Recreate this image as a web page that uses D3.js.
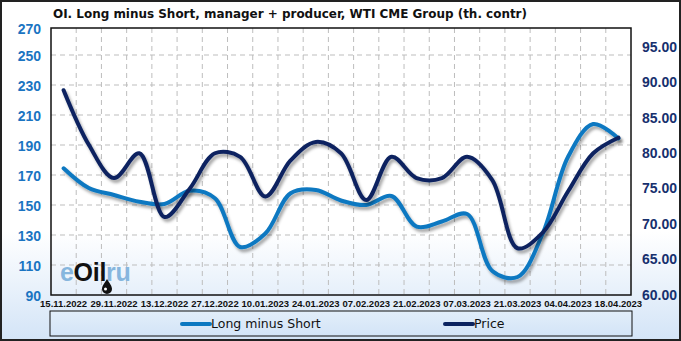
<!DOCTYPE html>
<html><head><meta charset="utf-8">
<script src="https://cdn.jsdelivr.net/npm/d3@7"></script>
<style>html,body{margin:0;padding:0;background:#fff;}svg{display:block;}</style>
</head><body>
<svg id="c" width="681" height="341"></svg>
<script>
const dates = ["15.11.2022","22.11.2022","29.11.2022","06.12.2022","13.12.2022","20.12.2022","27.12.2022","03.01.2023","10.01.2023","17.01.2023","24.01.2023","31.01.2023","07.02.2023","14.02.2023","21.02.2023","28.02.2023","07.03.2023","14.03.2023","21.03.2023","28.03.2023","04.04.2023","11.04.2023","18.04.2023"];
const longMinusShort = [174.5,161.3,156.7,152.2,150.7,159.5,154.5,122,131,157.8,160,153,150,156,135.6,139,144,106,102,131,182,204,194.4];
const price = [88.9,81.2,76.5,80.0,71.0,75.0,80.0,79.5,73.9,79.0,81.6,80.0,73.4,79.5,76.5,76.5,79.5,76.2,66.6,68.8,74.6,80.0,82.2];
const leftTicks = [90,110,130,150,170,190,210,230,250,270];
const rightTicks = [60,65,70,75,80,85,90,95];
const xLabels = dates.filter((d,i)=>i%2===0);
const title = "OI. Long minus Short, manager + producer, WTI CME Group (th. contr)";
const seriesNames = ["Long minus Short","Price"];
const colors = ["#0b78c1","#0c2460"];

const svg = d3.select("#c");
const W=681,H=341;
const plot = {l:51,r:631,t:28,b:295};
const defs = svg.append("defs");
const bg = defs.append("linearGradient").attr("id","bg").attr("x1",0).attr("y1",0).attr("x2",0).attr("y2",1);
bg.append("stop").attr("offset",0).attr("stop-color","#ffffff");
bg.append("stop").attr("offset",0.68).attr("stop-color","#ffffff");
bg.append("stop").attr("offset",1).attr("stop-color","#d3e4f7");
const lg = defs.append("linearGradient").attr("id","lg").attr("x1",0).attr("y1",0).attr("x2",0).attr("y2",1);
lg.append("stop").attr("offset",0).attr("stop-color","#e2eefa");
lg.append("stop").attr("offset",1).attr("stop-color","#d3e4f7");
const f = defs.append("filter").attr("id","sh").attr("x","-10%").attr("y","-10%").attr("width","120%").attr("height","130%");
f.append("feDropShadow").attr("dx",2).attr("dy",3).attr("stdDeviation",1.6).attr("flood-color","#000").attr("flood-opacity",0.35);

svg.append("rect").attr("x",0).attr("y",0).attr("width",W).attr("height",H).attr("fill","url(#bg)");
svg.append("rect").attr("x",1).attr("y",1).attr("width",W-2).attr("height",H-2).attr("fill","none").attr("stroke","#222").attr("stroke-width",2);

const x = d3.scaleBand().domain(dates).range([plot.l,plot.r]).padding(0);
const cx = d => x(d)+x.bandwidth()/2;
const yL = d3.scaleLinear().domain([90,270]).range([295,25]);
const yR = d3.scaleLinear().domain([60,95]).range([295,47]);

// grid
const g = svg.append("g");
g.selectAll("line.h").data(leftTicks.filter(v=>v>90 && yL(v)>plot.t)).enter().append("line")
 .attr("x1",plot.l).attr("x2",plot.r).attr("y1",d=>yL(d)).attr("y2",d=>yL(d))
 .attr("stroke","#bdbdbd").attr("stroke-dasharray","5,4").attr("stroke-width",1);
g.selectAll("line.v").data(dates.slice(1)).enter().append("line")
 .attr("x1",d=>x(d)).attr("x2",d=>x(d)).attr("y1",plot.t).attr("y2",plot.b)
 .attr("stroke","#bdbdbd").attr("stroke-dasharray","5,4").attr("stroke-width",1);

// watermark
const wm = svg.append("text").attr("x",60).attr("y",281).attr("font-family","Liberation Sans, Arial, sans-serif").attr("font-weight","bold").attr("font-size",25).attr("letter-spacing",-0.3);
wm.append("tspan").attr("fill","#86b6de").text("e");
wm.append("tspan").attr("fill","#111").text("Oil");
wm.append("tspan").attr("fill","#86b6de").text("ru");
svg.append("path").attr("d","M107,279 C104,284 102,286 102,289 A5,5 0 0 0 112,289 C112,286 110,284 107,279 Z").attr("fill","#111");
svg.append("circle").attr("cx",105.5).attr("cy",289).attr("r",1.5).attr("fill","#fff");

// lines
const lineL = d3.line().x((d,i)=>cx(dates[i])).y(d=>yL(d)).curve(d3.curveCatmullRom.alpha(0.5));
const lineR = d3.line().x((d,i)=>cx(dates[i])).y(d=>yR(d)).curve(d3.curveCatmullRom.alpha(0.5));
svg.append("path").attr("d",lineL(longMinusShort)).attr("fill","none").attr("stroke",colors[0]).attr("stroke-width",4).attr("stroke-linecap","round").attr("filter","url(#sh)");
svg.append("path").attr("d",lineR(price)).attr("fill","none").attr("stroke",colors[1]).attr("stroke-width",4).attr("stroke-linecap","round").attr("filter","url(#sh)");

// plot border
svg.append("rect").attr("x",plot.l).attr("y",plot.t).attr("width",plot.r-plot.l).attr("height",plot.b-plot.t).attr("fill","none").attr("stroke","#111").attr("stroke-width",1.5);

// left axis labels
svg.selectAll("text.yl").data(leftTicks).enter().append("text")
 .attr("x",41).attr("y",d=>Math.max(yL(d),28)+2).attr("text-anchor","end").attr("dominant-baseline","middle")
 .attr("font-family","Liberation Sans, Arial, sans-serif").attr("font-weight","bold").attr("font-size",14).attr("fill","#1a74c2")
 .text(d=>d);
// right axis labels
svg.selectAll("text.yr").data(rightTicks).enter().append("text")
 .attr("x",642).attr("y",d=>yR(d)+1).attr("text-anchor","start").attr("dominant-baseline","middle")
 .attr("font-family","Liberation Sans, Arial, sans-serif").attr("font-weight","bold").attr("font-size",14).attr("fill","#17306e")
 .text(d=>d.toFixed(2));
// x labels
svg.selectAll("text.xl").data(xLabels).enter().append("text")
 .attr("x",d=>cx(d)).attr("y",304).attr("text-anchor","middle").attr("dominant-baseline","middle")
 .attr("font-family","Liberation Sans, Arial, sans-serif").attr("font-weight","bold").attr("font-size",9.5).attr("fill","#111")
 .text(d=>d);

// title
svg.append("text").attr("x",53).attr("y",18).attr("font-family","DejaVu Sans Condensed, DejaVu Sans, sans-serif").attr("font-weight","bold").attr("font-size",12.5).attr("fill","#111")
 .attr("textLength",474).attr("lengthAdjust","spacingAndGlyphs").text(title);

// legend
svg.append("rect").attr("x",50).attr("y",311).attr("width",582).attr("height",25).attr("fill","url(#lg)").attr("stroke","#111").attr("stroke-width",1);
const leg = [{x:182,tx:211},{x:445,tx:474}];
seriesNames.forEach((n,i)=>{
  svg.append("line").attr("x1",leg[i].x).attr("x2",leg[i].x+28).attr("y1",324).attr("y2",324).attr("stroke",colors[i]).attr("stroke-width",4).attr("stroke-linecap","round");
  svg.append("text").attr("x",leg[i].tx).attr("y",324).attr("dominant-baseline","middle").attr("font-family","DejaVu Sans, sans-serif").attr("font-size",12.5).attr("fill","#111").text(n);
});
</script>
</body></html>
